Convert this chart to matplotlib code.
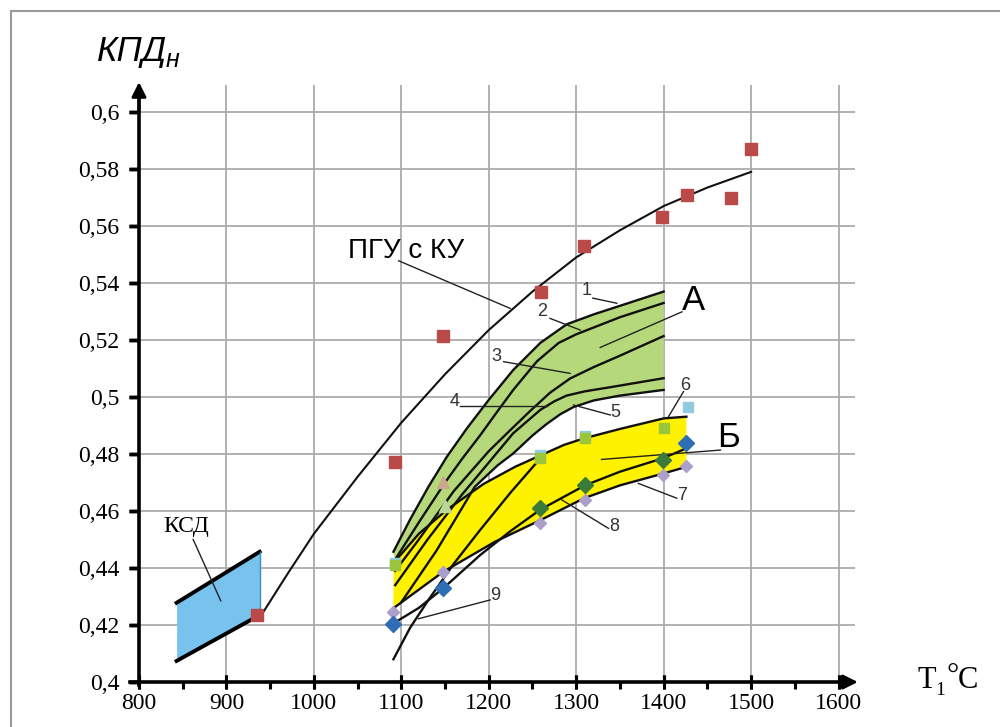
import numpy as np
import matplotlib
matplotlib.use('Agg')
import matplotlib.pyplot as plt
from matplotlib.patches import Rectangle
from matplotlib.ticker import FuncFormatter

# ---- data ----
# ПГУ с КУ: trend line and points
pgu_x = [940, 970, 1000, 1050, 1100, 1150, 1200, 1250, 1300, 1350, 1400, 1450, 1500]
pgu_y = [0.4235, 0.438, 0.452, 0.472, 0.491, 0.508, 0.5235, 0.537, 0.549, 0.5585, 0.567, 0.5735, 0.579]
pgu_pts_x = [935, 1093, 1148, 1260, 1309, 1398, 1427, 1477, 1500]
pgu_pts_y = [0.4235, 0.4772, 0.5214, 0.537, 0.553, 0.563, 0.571, 0.5698, 0.587]

# КСД band
ksd_x = [843, 938]
ksd_top = [0.4278, 0.4457]
ksd_bot = [0.4074, 0.4235]

# band A, curves 1..5
c1_x = [1091, 1110, 1131, 1152, 1175, 1200, 1228, 1259, 1289, 1320, 1360, 1400]
c1_y = [0.4457, 0.457, 0.4685, 0.479, 0.489, 0.499, 0.5095, 0.519, 0.5255, 0.529, 0.533, 0.537]
c2_x = [1093, 1120, 1150, 1170, 1190, 1210, 1228, 1255, 1280, 1300, 1350, 1400]
c2_y = [0.443, 0.456, 0.470, 0.4785, 0.4865, 0.495, 0.5025, 0.5125, 0.519, 0.522, 0.528, 0.533]
c3_x = [1093, 1120, 1160, 1200, 1225, 1247, 1270, 1293, 1320, 1350, 1400]
c3_y = [0.439, 0.450, 0.467, 0.481, 0.4885, 0.495, 0.5015, 0.5065, 0.5105, 0.5145, 0.5214]
c4_x = [1093, 1130, 1170, 1200, 1228, 1259, 1275, 1289, 1310, 1340, 1400]
c4_y = [0.434, 0.450, 0.466, 0.477, 0.4873, 0.4955, 0.4985, 0.5005, 0.502, 0.5035, 0.5066]
c5_x = [1100, 1140, 1184, 1210, 1228, 1250, 1266, 1282, 1297, 1320, 1350, 1400]
c5_y = [0.428, 0.446, 0.4685, 0.476, 0.4802, 0.4865, 0.4905, 0.494, 0.4965, 0.4988, 0.5005, 0.5025]

# band Б, curves 6..9
c6_x = [1091, 1120, 1152, 1194, 1230, 1259, 1286, 1309, 1350, 1400, 1426]
c6_y = [0.4417, 0.452, 0.4604, 0.4695, 0.4755, 0.4795, 0.4832, 0.4855, 0.4888, 0.4925, 0.4931]
c7_x = [1091, 1148, 1207, 1259, 1309, 1350, 1400, 1426]
c7_y = [0.4259, 0.4387, 0.4492, 0.4568, 0.4645, 0.469, 0.4732, 0.4755]
c8_x = [1090, 1120, 1148, 1190, 1225, 1259, 1310, 1350, 1399, 1426]
c8_y = [0.4204, 0.426, 0.4329, 0.4445, 0.453, 0.4605, 0.469, 0.4738, 0.4785, 0.482]
c9_x = [1091, 1110, 1131, 1160, 1190, 1225, 1259]
c9_y = [0.408, 0.419, 0.4288, 0.4415, 0.4533, 0.4665, 0.4785]

# scattered points
lblue_x = [1093, 1259, 1310, 1428]
lblue_y = [0.4417, 0.4795, 0.4862, 0.4966]
lgreen_x = [1093, 1259, 1310, 1400]
lgreen_y = [0.441, 0.4785, 0.4855, 0.489]
dgreen_x = [1259, 1310, 1399]
dgreen_y = [0.461, 0.4691, 0.4779]
blue_x = [1091, 1148, 1426]
blue_y = [0.4204, 0.4329, 0.4837]
lav_x = [1091, 1148, 1259, 1310, 1399, 1426]
lav_y = [0.4247, 0.4387, 0.4557, 0.4638, 0.4726, 0.4757]
tan_x = [1148]
tan_y = [0.4703]
pale_x = [1150]
pale_y = [0.4618]

x_ticks = np.arange(800, 1601, 100)
x_minor = np.arange(850, 1600, 100)
y_ticks = np.round(np.arange(0.40, 0.601, 0.02), 2)

fig = plt.figure(figsize=(10, 7.27), dpi=100)
ax = fig.add_axes([0.104, 0.0305, 0.787, 0.8938])
ax.set_xlim(760, 1660)
ax.set_ylim(0.392, 0.62)
ax.patch.set_alpha(0)

# frame round the picture
fig.add_artist(Rectangle((0.011, -0.05), 1.5, 1.035, transform=fig.transFigure,
                         fill=False, ec='#9a9a9a', lw=1.5))

# grid
gcol = '#ababab'
ax.hlines(y_ticks[1:], 800, 1619, color=gcol, lw=1.3, zorder=0)
ax.vlines(x_ticks[1:], 0.4, 0.6095, color=gcol, lw=1.3, zorder=0)

# axes lines with arrows
ax.spines['top'].set_visible(False)
ax.spines['right'].set_visible(False)
ax.spines['left'].set_position(('data', 800))
ax.spines['bottom'].set_position(('data', 0.4))
ax.spines['left'].set_bounds(0.399, 0.605)
ax.spines['bottom'].set_bounds(790, 1612)
ax.spines['left'].set_linewidth(2.6)
ax.spines['bottom'].set_linewidth(2.6)
ax.spines['left'].set_zorder(6)
ax.spines['bottom'].set_zorder(6)
ax.annotate('', xy=(1622, 0.4), xytext=(1600, 0.4),
            arrowprops=dict(arrowstyle='-|>', lw=2.0, color='k', mutation_scale=22,
                            shrinkA=0, shrinkB=0), zorder=6)
ax.annotate('', xy=(800, 0.6105), xytext=(800, 0.60),
            arrowprops=dict(arrowstyle='-|>', lw=2.0, color='k', mutation_scale=22,
                            shrinkA=0, shrinkB=0), zorder=6)

ax.set_xticks(x_ticks)
ax.set_yticks(y_ticks)
ax.set_xticks(x_minor, minor=True)
comma = FuncFormatter(lambda v, p: f'{v:g}'.replace('.', ','))
ax.xaxis.set_major_formatter(comma)
ax.yaxis.set_major_formatter(comma)
ax.tick_params(axis='x', which='major', direction='inout', length=10, width=2.2, pad=3,
               labelsize=17)
ax.tick_params(axis='x', which='minor', direction='out', length=4, width=2.2)
ax.tick_params(axis='y', which='major', direction='out', length=7, width=2.5, pad=7,
               labelsize=17)
for lab in ax.get_xticklabels() + ax.get_yticklabels():
    lab.set_family('Liberation Serif')

# tick stubs drawn again so they show over the axis lines
ax.plot([800] * len(y_ticks), y_ticks, ls='none', marker=0, ms=7, mew=2.5, color='k',
        clip_on=False, zorder=7)
ax.plot(x_ticks, [0.4] * len(x_ticks), ls='none', marker='|', ms=10, mew=2.2, color='k',
        clip_on=False, zorder=7)
ax.plot(x_minor, [0.4] * len(x_minor), ls='none', marker=3, ms=5, mew=2.2, color='k',
        clip_on=False, zorder=7)

# КСД band
ax.fill_between(ksd_x, ksd_bot, ksd_top, color='#77c3ee', lw=0, zorder=1)
ax.plot(ksd_x, ksd_top, color='k', lw=2.8, zorder=3)
ax.plot(ksd_x, ksd_bot, color='k', lw=2.8, zorder=3)
ax.plot([ksd_x[1], ksd_x[1]], [ksd_bot[1], ksd_top[1]], color='#3a8fc8', lw=1, zorder=3)

# band A (green) and band Б (yellow)
ax.fill(np.concatenate([c1_x, c5_x[::-1]]), np.concatenate([c1_y, c5_y[::-1]]),
        color='#b5d97a', lw=0, zorder=1)
ax.fill(np.concatenate([c6_x, c7_x[::-1]]), np.concatenate([c6_y, c7_y[::-1]]),
        color='#fff200', lw=0, zorder=2)

for cx, cy in [(c1_x, c1_y), (c2_x, c2_y), (c3_x, c3_y), (c4_x, c4_y), (c5_x, c5_y),
               (c6_x, c6_y), (c7_x, c7_y), (c8_x, c8_y), (c9_x, c9_y)]:
    ax.plot(cx, cy, color='#111111', lw=1.7, zorder=3, solid_joinstyle='round')

ax.plot(pgu_x, pgu_y, color='#111111', lw=1.5, zorder=3, solid_joinstyle='round')

# points
ax.plot(pgu_pts_x, pgu_pts_y, 's', color='#b94a48', ms=9, zorder=5)
ax.plot(lblue_x, lblue_y, 's', color='#8fcbe0', ms=7, zorder=5)
ax.plot(lgreen_x, lgreen_y, 's', color='#9bc53d', ms=7, zorder=5)
ax.plot(lav_x, lav_y, 'D', color='#ab9fcb', ms=6, zorder=5)
ax.plot(dgreen_x, dgreen_y, 'D', color='#3a7a3a', ms=8, zorder=5)
ax.plot(blue_x, blue_y, 'D', color='#2f6eb5', ms=8, zorder=5)
ax.plot(tan_x, tan_y, '^', color='#c9a98c', ms=8, zorder=5)
ax.plot(pale_x, pale_y, '^', color='#bcd99a', ms=8, zorder=5)

# leader lines
lk = dict(color='#222222', lw=1.0, zorder=4)
ax.plot([1097, 1224.5], [0.5478, 0.5311], **lk)
ax.plot([862, 893.5], [0.450, 0.4285], **lk)
ax.plot([1421, 1327.5], [0.5299, 0.5174], **lk)
ax.plot([1465, 1329], [0.4814, 0.4781], **lk)
ax.plot([1319, 1346.5], [0.5347, 0.5329], **lk)
ax.plot([1270, 1304.6], [0.5276, 0.5235], **lk)
ax.plot([1217, 1293], [0.5124, 0.5083], **lk)
ax.plot([1167, 1266.5], [0.4968, 0.4968], **lk)
ax.plot([1339, 1297], [0.4937, 0.4972], **lk)
ax.plot([1422.7, 1405.5], [0.5019, 0.4931], **lk)
ax.plot([1415, 1371], [0.4645, 0.4697], **lk)
ax.plot([1337, 1283.6], [0.4539, 0.4639], **lk)
ax.plot([1201.6, 1119.6], [0.4288, 0.4222], **lk)

# labels
nk = dict(fontsize=13, color='#333333', ha='center', va='center', family='Liberation Sans')
for t, x, y in [('1', 1312, 0.5375), ('2', 1260.6, 0.530), ('3', 1209, 0.5141),
                ('4', 1161, 0.4983), ('5', 1345, 0.4945), ('6', 1424.7, 0.5042),
                ('7', 1421, 0.4656), ('8', 1343, 0.4547), ('9', 1207, 0.4305)]:
    ax.text(x, y, t, **nk)
ax.text(1434, 0.5339, 'А', fontsize=25, ha='center', va='center', family='Liberation Sans')
ax.text(1474, 0.4858, 'Б', fontsize=25, ha='center', va='center', family='Liberation Sans')
ax.text(1105.5, 0.5512, 'ПГУ с КУ', fontsize=20, ha='center', va='center',
        family='Liberation Sans')
ax.text(853.8, 0.4547, 'КСД', fontsize=17, ha='center', va='center', family='Liberation Serif')

# axis titles
fig.text(0.097, 1 - 61 / 727, 'КПД', fontsize=25, style='italic', family='Liberation Sans',
         va='baseline')
fig.text(0.166, 1 - 67 / 727, 'н', fontsize=18, style='italic', family='Liberation Sans',
         va='baseline')
sk = dict(family='Liberation Serif', va='baseline')
fig.text(0.917, 1 - 688 / 727, 'T', fontsize=22, **sk)
fig.text(0.935, 1 - 695 / 727, '1', fontsize=14, **sk)
fig.text(0.946, 1 - 684 / 727, '°', fontsize=22, **sk)
fig.text(0.958, 1 - 688 / 727, 'C', fontsize=22, **sk)

fig.savefig('out.png', dpi=100)
